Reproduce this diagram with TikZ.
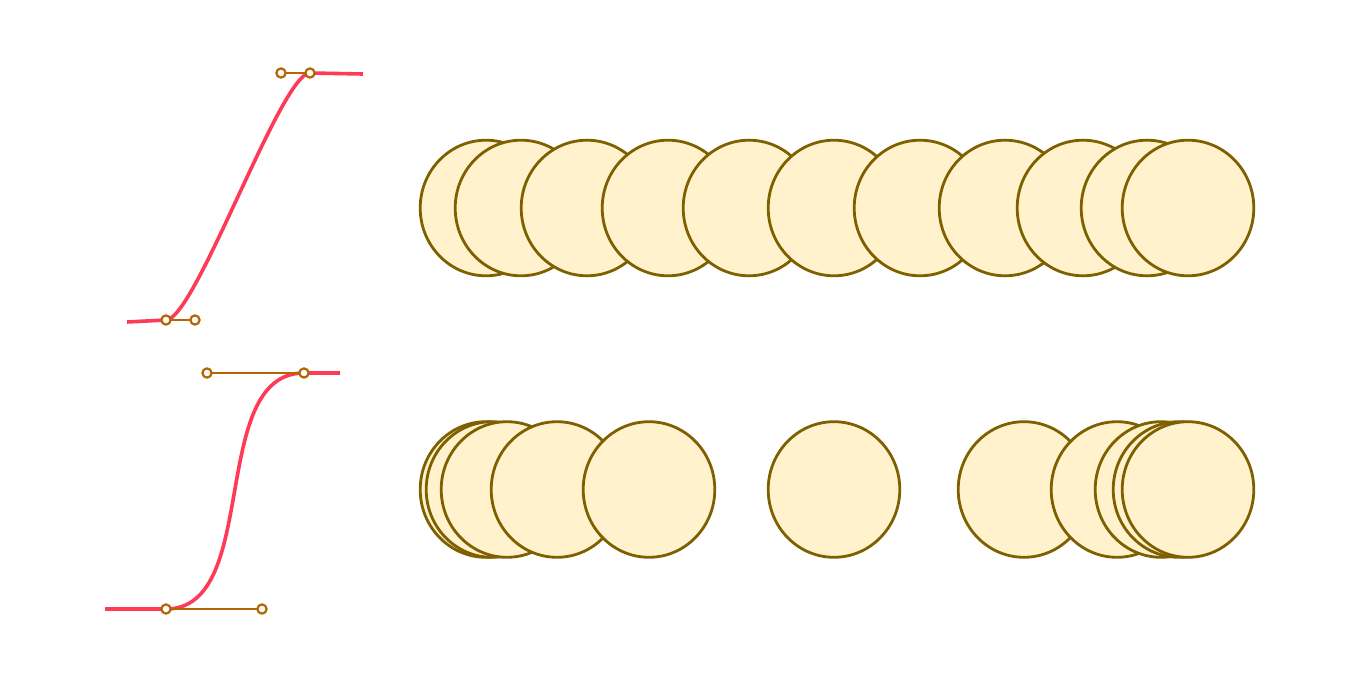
\documentclass[tikz,border=0pt]{standalone}
\usetikzlibrary{shapes.geometric}
\definecolor{curvered}{HTML}{FF3A57}
\definecolor{handleor}{HTML}{B46504}
\definecolor{ballfill}{HTML}{FFF2CC}
\definecolor{ballline}{HTML}{7F6000}
\begin{document}
\begin{tikzpicture}[x=0.5pt,y=-0.5pt,
  ball/.style={ellipse,draw=ballline,fill=ballfill,line width=1.4pt,inner sep=0pt,minimum width=65.8pt,minimum height=67.8pt},
  curveline/.style={draw=curvered,line width=1.8pt},
  handleline/.style={draw=handleor,line width=1.2pt},
  handledot/.style={circle,draw=handleor,fill=white,line width=1.1pt,inner sep=0pt,minimum size=4.6pt}]
\useasboundingbox (0,0) rectangle (1360,680);
% top curve
\coordinate (ta) at (127,322);
\coordinate (tp0) at (166,320);
\coordinate (tc0) at (195,320);
\coordinate (tc1) at (281,73);
\coordinate (tp1) at (310,73);
\coordinate (tb) at (363,74);
\draw[curveline] (ta) -- (tp0) .. controls (tc0) and (tc1) .. (tp1) -- (tb);
\draw[handleline] (tp0) -- (tc0);
\draw[handleline] (tc1) -- (tp1);
\node[handledot] (h1) at (tp0) {};
\node[handledot] (h2) at (tc0) {};
\node[handledot] (h3) at (tc1) {};
\node[handledot] (h4) at (tp1) {};
% bottom curve
\coordinate (ba) at (105,609);
\coordinate (bp0) at (166,609);
\coordinate (bc0) at (262,609);
\coordinate (bc1) at (207,373);
\coordinate (bp1) at (304,373);
\coordinate (bb) at (340,373);
\draw[curveline] (ba) -- (bp0) .. controls (bc0) and (bc1) .. (bp1) -- (bb);
\draw[handleline] (bp0) -- (bc0);
\draw[handleline] (bc1) -- (bp1);
\node[handledot] (h5) at (bp0) {};
\node[handledot] (h6) at (bc0) {};
\node[handledot] (h7) at (bc1) {};
\node[handledot] (h8) at (bp1) {};
% top balls
\foreach \x [count=\i] in {486,521,587,668,749,834,920,1005,1083,1147,1188}
  \node[ball] (t\i) at (\x,208) {};
% bottom balls
\foreach \x [count=\i] in {486,492,507,557,649,834,1024,1117,1161,1179,1188}
  \node[ball] (b\i) at (\x,489.5) {};
\end{tikzpicture}
\end{document}
